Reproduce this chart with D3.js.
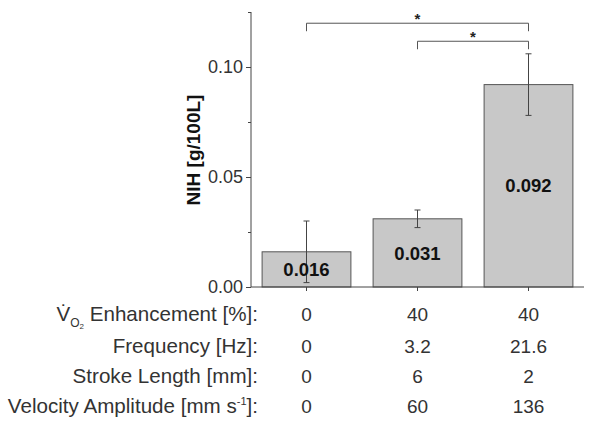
<!DOCTYPE html>
<html>
<head>
<meta charset="utf-8">
<script src="https://cdn.jsdelivr.net/npm/d3@7"></script>
<style>
  html, body { margin: 0; padding: 0; background: #fff; }
  svg { display: block; }
  text { font-family: "Liberation Sans", Arial, sans-serif; }
</style>
</head>
<body>
<svg id="chart" width="601" height="430"></svg>
<script>
const categories = ["A", "B", "C"];
const values = [0.016, 0.031, 0.092];
const errors = [0.014, 0.004, 0.014];
const valueLabels = ["0.016", "0.031", "0.092"];
const yTicks = [0, 0.05, 0.10];
const yMinorTicks = [0.025, 0.075, 0.125];
const yTickLabels = ["0.00", "0.05", "0.10"];
const rowLabels = ["Enhancement [%]:", "Frequency [Hz]:", "Stroke Length [mm]:", "Velocity Amplitude [mm s", "]:"];
const rowEnhancement = ["0", "40", "40"];
const rowFrequency = ["0", "3.2", "21.6"];
const rowStroke = ["0", "6", "2"];
const rowVelocity = ["0", "60", "136"];
const brackets = [{from: 0, to: 2, y: 0.1199}, {from: 1, to: 2, y: 0.1117}];

(function () {
const svg = d3.select("#chart");
const pL = 251, pR = 584, pT = 12, pB = 287;
const x = d3.scaleBand().domain(categories).range([pL, pR]).paddingInner(0.2).paddingOuter(0.1);
const y = d3.scaleLinear().domain([0, 0.125]).range([pB, pT]);
const ink = "#333";

// bars
svg.selectAll("rect.bar").data(values).join("rect")
  .attr("x", (d, i) => x(categories[i]))
  .attr("y", d => y(d))
  .attr("width", x.bandwidth())
  .attr("height", d => y(0) - y(d))
  .attr("fill", "#c8c8c8")
  .attr("stroke", "#555")
  .attr("stroke-width", 1);

// error bars
const cx = i => x(categories[i]) + x.bandwidth() / 2;
values.forEach((v, i) => {
  const g = svg.append("g").attr("stroke", "#444").attr("stroke-width", 1);
  g.append("line").attr("x1", cx(i)).attr("x2", cx(i)).attr("y1", y(v - errors[i])).attr("y2", y(v + errors[i]));
  [v - errors[i], v + errors[i]].forEach(e => {
    g.append("line").attr("x1", cx(i) - 3).attr("x2", cx(i) + 3).attr("y1", y(e)).attr("y2", y(e));
  });
});

// value labels
svg.selectAll("text.vl").data(values).join("text")
  .attr("x", (d, i) => cx(i))
  .attr("y", d => (y(0) + y(d)) / 2)
  .attr("dy", "0.36em")
  .attr("text-anchor", "middle")
  .attr("font-weight", "bold")
  .attr("font-size", 18.5)
  .attr("fill", "#111")
  .text((d, i) => valueLabels[i]);

// y axis
const yAxis = d3.axisLeft(y).tickValues(yTicks).tickFormat((d, i) => yTickLabels[i]).tickSize(5).tickPadding(3);
const gy = svg.append("g").attr("transform", `translate(${pL},0)`).call(yAxis);
gy.select(".domain").attr("d", `M0,${pB}V${pT}`).attr("stroke", "#444");
gy.selectAll(".tick line").attr("stroke", "#444");
gy.selectAll(".tick text").attr("font-size", 18).attr("fill", ink).attr("font-family", "Liberation Sans, Arial, sans-serif");
const gyMinor = svg.append("g").attr("transform", `translate(${pL},0)`)
  .call(d3.axisLeft(y).tickValues(yMinorTicks).tickFormat("").tickSize(3));
gyMinor.select(".domain").remove();
gyMinor.selectAll(".tick line").attr("stroke", "#444");

// x axis
const xAxis = d3.axisBottom(x).tickFormat("").tickSize(4);
const gx = svg.append("g").attr("transform", `translate(0,${pB})`).call(xAxis);
gx.select(".domain").attr("d", `M${pL},0H${pR}`).attr("stroke", "#444");
gx.selectAll(".tick line").attr("stroke", "#444");

// y label
svg.append("text")
  .attr("transform", `translate(200,150) rotate(-90)`)
  .attr("text-anchor", "middle")
  .attr("font-weight", "bold")
  .attr("font-size", 19)
  .attr("fill", "#111")
  .text("NIH [g/100L]");

// significance brackets
brackets.forEach(b => {
  const yy = y(b.y);
  svg.append("path")
    .attr("d", `M${cx(b.from)},${yy + 8}V${yy}H${cx(b.to)}V${yy + 8}`)
    .attr("fill", "none").attr("stroke", "#555").attr("stroke-width", 1);
  svg.append("text")
    .attr("x", (cx(b.from) + cx(b.to)) / 2)
    .attr("y", yy + 1)
    .attr("text-anchor", "middle")
    .attr("font-size", 15)
    .attr("font-weight", "bold")
    .attr("fill", "#222")
    .text("*");
});

// table rows
const rowY = [314, 346, 376, 406];
const labelX = 258;
const fs = 20.6;
const t1 = svg.append("text").attr("x", labelX).attr("y", rowY[0]).attr("dy", "0.35em")
  .attr("text-anchor", "end").attr("font-size", fs).attr("fill", ink);
t1.append("tspan").text("V\u0307");
t1.append("tspan").attr("font-size", 12).attr("dy", 6).text("O");
t1.append("tspan").attr("font-size", 8).attr("dy", 2).text("2");
t1.append("tspan").attr("dy", -8).text(" " + rowLabels[0]);

[rowLabels[1], rowLabels[2]].forEach((lab, i) => {
  svg.append("text").attr("x", labelX).attr("y", rowY[i + 1]).attr("dy", "0.35em")
    .attr("text-anchor", "end").attr("font-size", fs).attr("fill", ink).text(lab);
});
const t4 = svg.append("text").attr("x", labelX).attr("y", rowY[3]).attr("dy", "0.35em")
  .attr("text-anchor", "end").attr("font-size", fs).attr("fill", ink);
t4.append("tspan").text(rowLabels[3]);
t4.append("tspan").attr("font-size", 11).attr("dy", -8).text("-1");
t4.append("tspan").attr("dy", 8).text(rowLabels[4]);

[rowEnhancement, rowFrequency, rowStroke, rowVelocity].forEach((row, r) => {
  svg.selectAll(null).data(row).join("text")
    .attr("x", (d, i) => cx(i))
    .attr("y", rowY[r])
    .attr("dy", "0.35em")
    .attr("text-anchor", "middle")
    .attr("font-size", 19)
    .attr("fill", ink)
    .text(d => d);
});
})();
</script>
</body>
</html>
